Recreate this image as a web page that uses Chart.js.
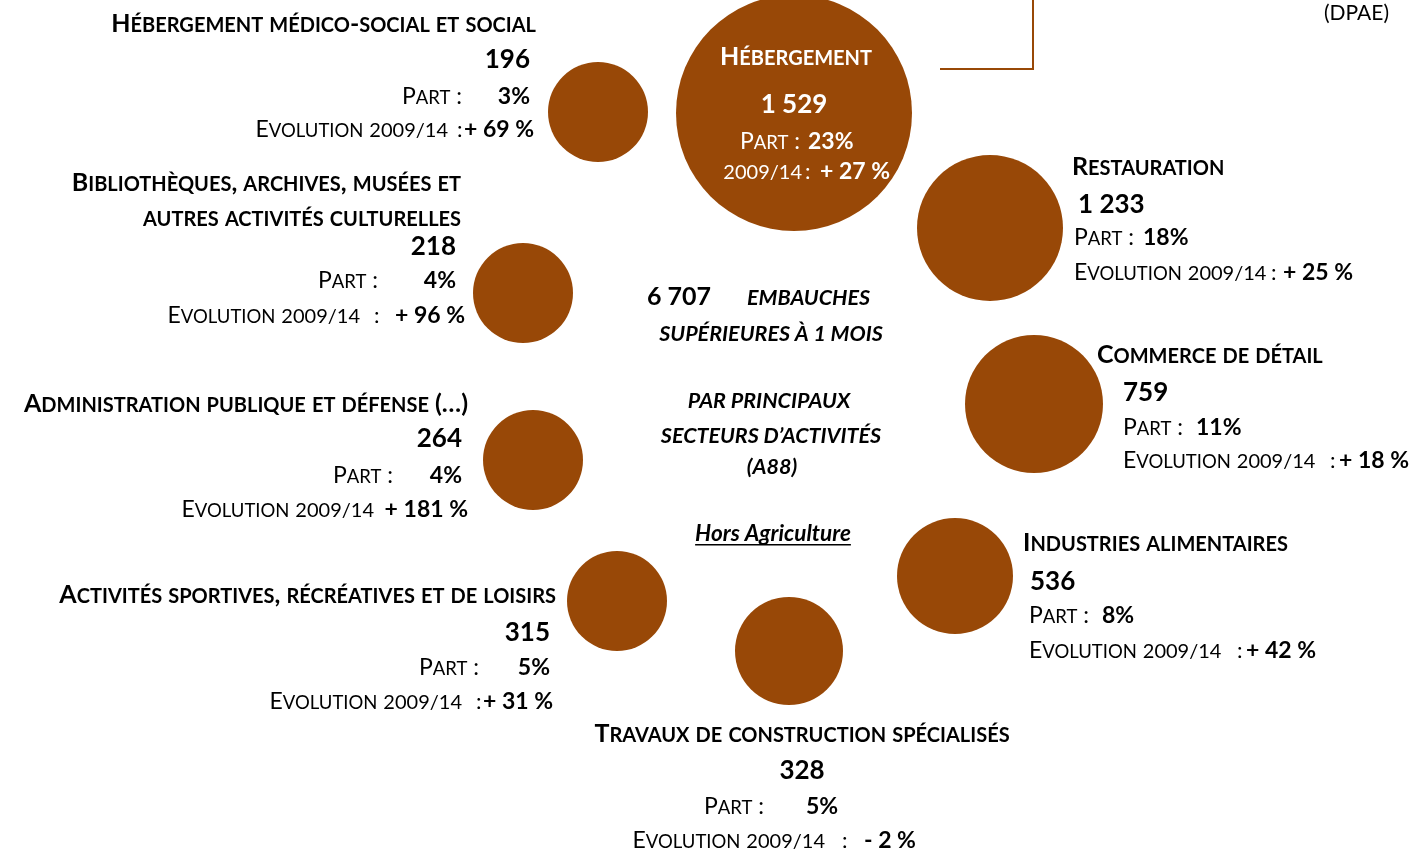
<!DOCTYPE html>
<html>
<head>
<meta charset="utf-8">
<script src="https://cdn.jsdelivr.net/npm/chart.js@4"></script>
<style>
  html, body { margin: 0; padding: 0; background: #fff; }
  canvas { display: block; }
</style>
</head>
<body>
<canvas id="bubbles" width="1410" height="852"></canvas>
<script>
// Data
const sectors = [
  "Hébergement",
  "Restauration",
  "Commerce de détail",
  "Industries alimentaires",
  "Travaux de construction spécialisés",
  "Activités sportives, récréatives et de loisirs",
  "Administration publique et défense (…)",
  "Bibliothèques, archives, musées et\nautres activités culturelles",
  "Hébergement médico-social et social",
];
const hires = [1529, 1233, 759, 536, 328, 315, 264, 218, 196];
const shares = [23, 18, 11, 8, 5, 5, 4, 4, 3];
const evolution = [27, 25, 18, 42, -2, 31, 181, 96, 69];
const totalHires = 6707;

const BROWN = "#984807";
const FONT = "Lato, 'Open Sans', sans-serif";

// bubble placement (picture layout, in pixel units of the hidden scales)
const bubbleLayout = [
  { x: 794, y: 113, r: 118 },
  { x: 990, y: 228, r: 73 },
  { x: 1034, y: 404, r: 69 },
  { x: 955, y: 576, r: 58 },
  { x: 789, y: 651, r: 54 },
  { x: 617, y: 601, r: 50 },
  { x: 533, y: 460, r: 50 },
  { x: 523, y: 293, r: 50 },
  { x: 598, y: 112, r: 50 },
];

// label placement relative to bubble centre: [dx, dy, align]
const labelLayout = [
  { color: "#fff", title: [2, -48, "center"], num: [0, 0, "center"], partLbl: [6, 36, "right"], partVal: [14, 36, "left"],
    evoText: "2009/14", evoLbl: [8, 66, "right"], colon: [11, 66, "left"], evoVal: [26, 66, "left"] },
  { title: [82, -53, "left"], num: [88, -15, "left"], partLbl: [84, 17, "left"], partVal: [153, 17, "left"],
    evoLbl: [84, 52, "left"], colon: [281, 52, "left"], evoVal: [293, 52, "left"] },
  { title: [63, -41, "left"], num: [89, -3, "left"], partLbl: [89, 31, "left"], partVal: [162, 31, "left"],
    evoLbl: [89, 64, "left"], colon: [296, 64, "left"], evoVal: [305, 64, "left"] },
  { title: [68, -25, "left"], num: [75, 14, "left"], partLbl: [74, 47, "left"], partVal: [147, 47, "left"],
    evoLbl: [74, 82, "left"], colon: [282, 82, "left"], evoVal: [291, 82, "left"] },
  { title: [13, 91, "center"], num: [13, 128, "center"], partLbl: [-25, 163, "right"], partVal: [17, 163, "left"],
    evoLbl: [36, 197, "right"], colon: [53, 197, "left"], evoVal: [75, 197, "left"] },
  { title: [-61, 2, "right"], num: [-67, 40, "right"], partLbl: [-138, 74, "right"], partVal: [-67, 74, "right"],
    evoLbl: [-155, 108, "right"], colon: [-141, 108, "left"], evoVal: [-64, 108, "right"] },
  { title: [-65, -48, "right"], num: [-71, -13, "right"], partLbl: [-140, 23, "right"], partVal: [-71, 23, "right"],
    evoLbl: [-159, 57, "right"], colon: null, evoVal: [-65, 57, "right"] },
  { title: [-62, -102, "right"], lineGap: 35, num: [-67, -38, "right"], partLbl: [-145, -5, "right"], partVal: [-67, -5, "right"],
    evoLbl: [-163, 30, "right"], colon: [-149, 30, "left"], evoVal: [-58, 30, "right"] },
  { title: [-62, -80, "right"], num: [-68, -44, "right"], partLbl: [-136, -8, "right"], partVal: [-68, -8, "right"],
    evoLbl: [-150, 25, "right"], colon: [-141, 25, "left"], evoVal: [-64, 25, "right"] },
];

const fmtNum = v => v >= 1000 ? Math.floor(v / 1000) + " " + String(v % 1000).padStart(3, "0") : String(v);
const fmtEvo = v => (v >= 0 ? "+ " : "- ") + Math.abs(v) + " %";

// small caps text: capitals/digits large, lower-case letters shrunk
function scRuns(text, big, small, digit) {
  const runs = [];
  for (const ch of text) {
    let size = big, s = ch;
    if (ch !== ch.toUpperCase()) { size = small; s = ch.toUpperCase(); }
    else if (/[0-9\/]/.test(ch)) size = digit || big;
    const last = runs[runs.length - 1];
    if (last && last.size === size) last.s += s; else runs.push({ s, size });
  }
  return runs;
}

function drawRuns(ctx, runs, x, y, align, weight) {
  let w = 0;
  runs.forEach(r => { ctx.font = `${weight} ${r.size}px ${FONT}`; r.w = ctx.measureText(r.s).width; w += r.w; });
  let cx = align === "right" ? x - w : align === "center" ? x - w / 2 : x;
  ctx.textAlign = "left";
  runs.forEach(r => { ctx.font = `${weight} ${r.size}px ${FONT}`; ctx.fillText(r.s, cx, y); cx += r.w; });
}

function drawPlain(ctx, text, x, y, align, font) {
  ctx.font = font;
  ctx.textAlign = align;
  ctx.fillText(text, x, y);
}

const labelPlugin = {
  id: "sectorLabels",
  afterDatasetsDraw(chart) {
    const ctx = chart.ctx;
    const meta = chart.getDatasetMeta(0);
    ctx.save();
    ctx.textBaseline = "alphabetic";

    // top-right connector line
    ctx.strokeStyle = BROWN;
    ctx.lineWidth = 2;
    ctx.beginPath();
    ctx.moveTo(1033, 0);
    ctx.lineTo(1033, 69);
    ctx.lineTo(940, 69);
    ctx.stroke();

    meta.data.forEach((el, i) => {
      const L = labelLayout[i];
      const ox = el.x, oy = el.y;
      ctx.fillStyle = L.color || "#000";
      sectors[i].split("\n").forEach((line, k) => {
        drawRuns(ctx, scRuns(line, 25, 20), ox + L.title[0], oy + L.title[1] + k * (L.lineGap || 0), L.title[2], "bold");
      });
      drawPlain(ctx, fmtNum(hires[i]), ox + L.num[0], oy + L.num[1], L.num[2], `bold 26px ${FONT}`);
      drawRuns(ctx, scRuns("Part :", 23, 18.5), ox + L.partLbl[0], oy + L.partLbl[1], L.partLbl[2], "normal");
      drawPlain(ctx, shares[i] + "%", ox + L.partVal[0], oy + L.partVal[1], L.partVal[2], `bold 23px ${FONT}`);
      drawRuns(ctx, scRuns(L.evoText || "Evolution 2009/14", 23, 18.5, 20), ox + L.evoLbl[0], oy + L.evoLbl[1], L.evoLbl[2], "normal");
      if (L.colon) drawPlain(ctx, ":", ox + L.colon[0], oy + L.colon[1], L.colon[2], `normal 22px ${FONT}`);
      drawPlain(ctx, fmtEvo(evolution[i]), ox + L.evoVal[0], oy + L.evoVal[1], L.evoVal[2], `bold 23px ${FONT}`);
    });

    // central caption
    ctx.fillStyle = "#000";
    drawPlain(ctx, fmtNum(totalHires), 647, 305, "left", `bold 25px ${FONT}`);
    const it = `italic bold 21.5px ${FONT}`;
    drawPlain(ctx, "EMBAUCHES", 747, 305, "left", it);
    drawPlain(ctx, "SUPÉRIEURES À 1 MOIS", 771, 341, "center", it);
    drawPlain(ctx, "PAR PRINCIPAUX", 769, 408, "center", it);
    drawPlain(ctx, "SECTEURS D’ACTIVITÉS", 771, 443, "center", it);
    drawPlain(ctx, "(A88)", 772, 474, "center", it);
    ctx.font = `italic bold 22.5px ${FONT}`;
    const hw = ctx.measureText("Hors Agriculture").width;
    drawPlain(ctx, "Hors Agriculture", 773, 541, "center", ctx.font);
    ctx.fillRect(773 - hw / 2, 544, hw, 1.5);

    drawPlain(ctx, "(DPAE)", 1389, 20, "right", `normal 21px ${FONT}`);
    ctx.restore();
  }
};

new Chart(document.getElementById("bubbles").getContext("2d"), {
  type: "bubble",
  data: {
    labels: sectors,
    datasets: [{
      label: "Embauches",
      data: sectors.map((s, i) => ({ x: bubbleLayout[i].x, y: bubbleLayout[i].y, r: bubbleLayout[i].r })),
      backgroundColor: BROWN,
      borderWidth: 0,
      hoverRadius: 0,
    }],
  },
  options: {
    responsive: false,
    animation: false,
    events: [],
    layout: { padding: 0, autoPadding: false },
    clip: false,
    plugins: { legend: { display: false }, tooltip: { enabled: false } },
    scales: {
      x: { display: false, min: 0, max: 1410 },
      y: { display: false, min: 0, max: 852, reverse: true },
    },
  },
  plugins: [labelPlugin],
});
</script>
</body>
</html>
